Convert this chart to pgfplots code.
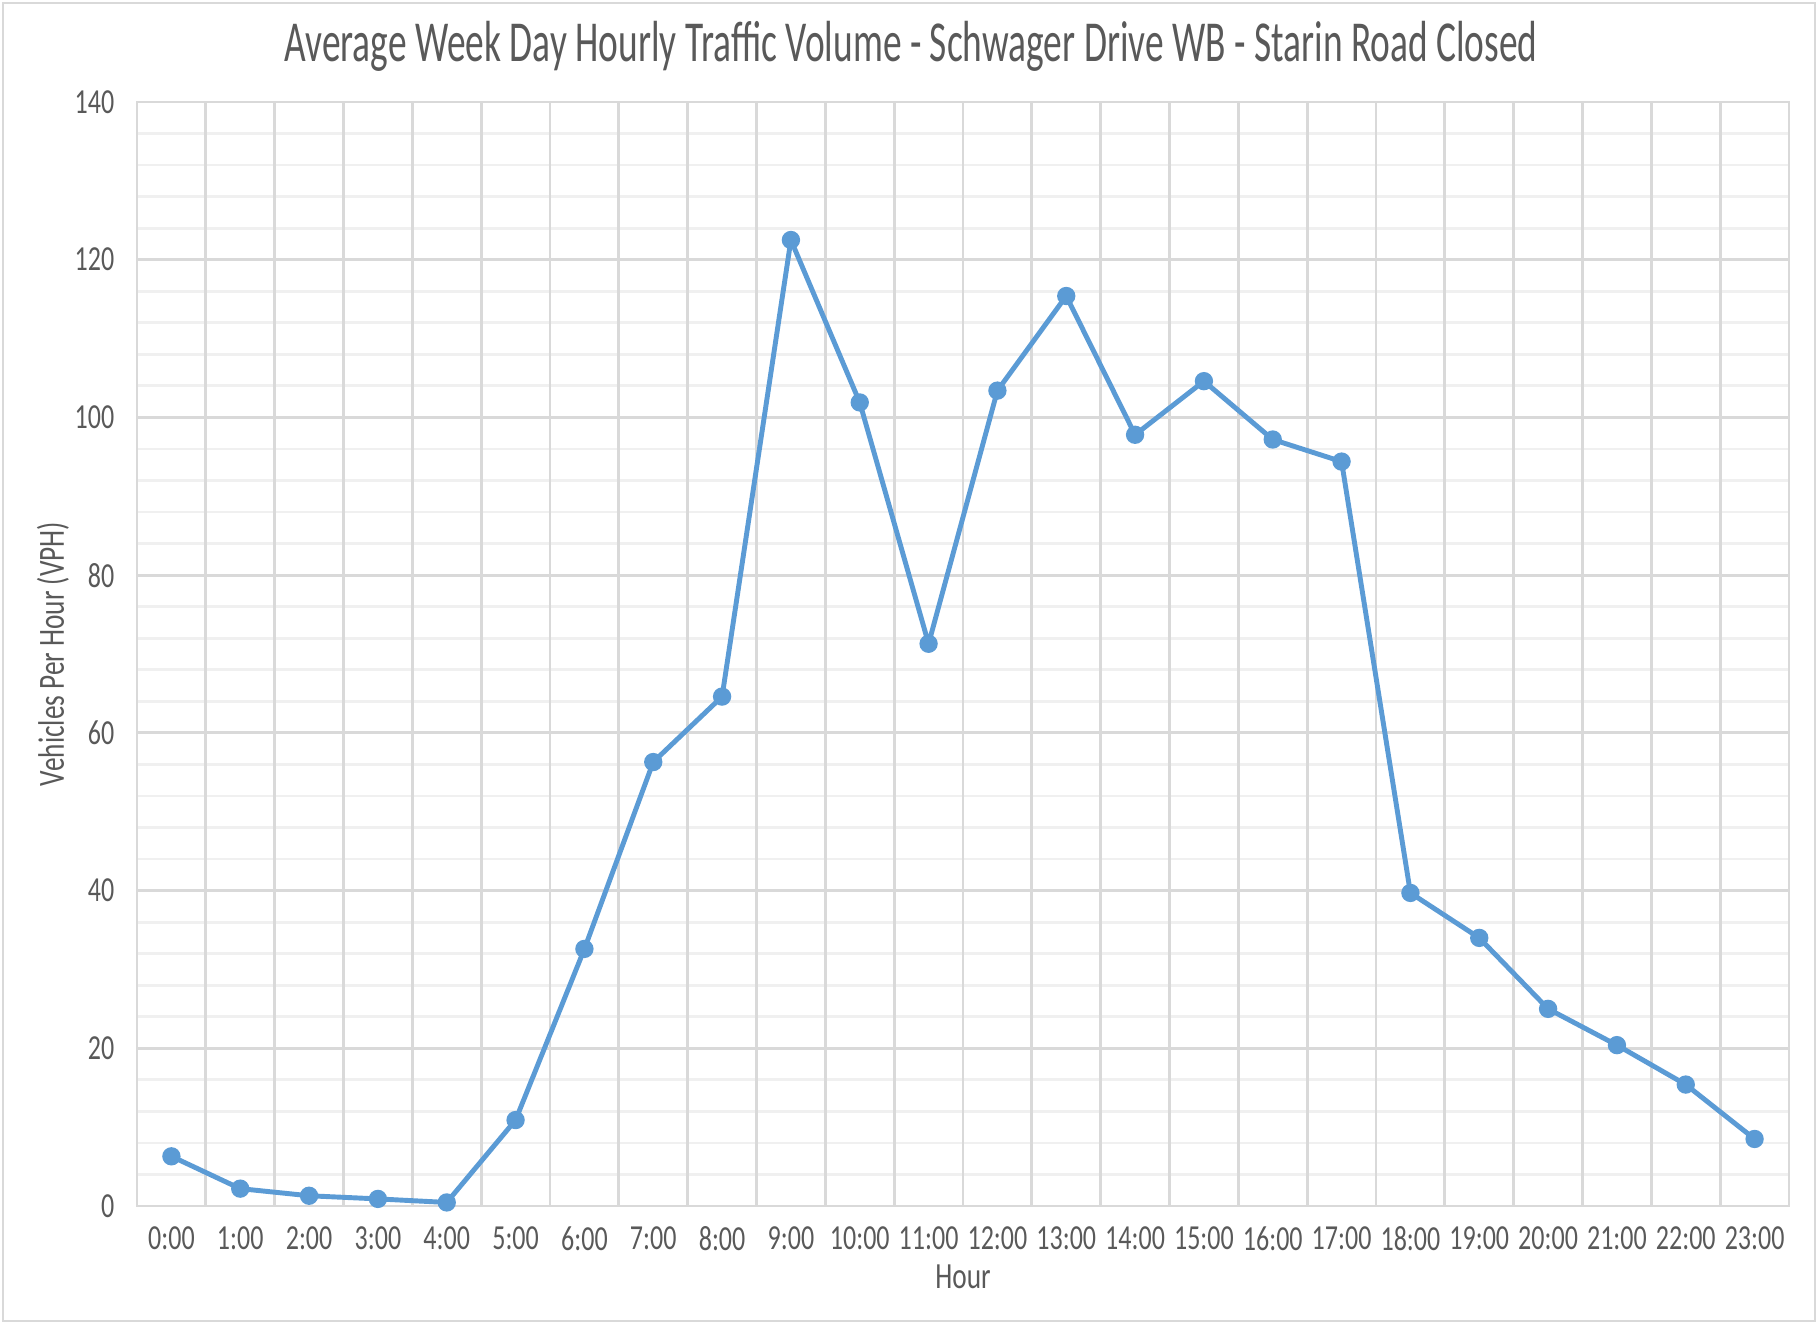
\documentclass[border=0pt]{standalone}
\usepackage{pgfplots}
\pgfplotsset{compat=1.18}
\usepackage{fontspec}
\setmainfont{Carlito}[FakeStretch=0.74]
\newfontfamily\titlefont{Carlito}[FakeStretch=0.645]
\definecolor{txt}{HTML}{595959}
\definecolor{gridc}{HTML}{D9D9D9}
\definecolor{gridm}{HTML}{F0F0F0}
\definecolor{blue1}{HTML}{5B9BD5}
\begin{document}
\begin{tikzpicture}
\useasboundingbox (-1.37,-1.18) rectangle (16.81,12.06);
\draw[gridc, line width=0.8pt] (-1.34,-1.15) rectangle (16.78,12.03);
\begin{axis}[
  scale only axis,
  width=16.52cm, height=11.04cm,
  at={(0,0)}, anchor=south west,
  xmin=-0.5, xmax=23.5,
  ymin=0, ymax=140,
  xtick={0,...,23},
  xticklabels={0:00,1:00,2:00,3:00,4:00,5:00,6:00,7:00,8:00,9:00,10:00,11:00,12:00,13:00,14:00,15:00,16:00,17:00,18:00,19:00,20:00,21:00,22:00,23:00},
  ytick={0,20,...,140},
  minor y tick num=4,
  extra x ticks={0.5,1.5,...,22.5},
  extra x tick labels={},
  extra x tick style={grid=major},
  ymajorgrids, yminorgrids,
  major grid style={gridc, line width=0.8pt},
  minor grid style={gridm, line width=0.8pt},
  major tick length=0pt, minor tick length=0pt,
  axis line style={gridc, line width=0.8pt},
  tick label style={font=\fontsize{10pt}{12pt}\selectfont, text=txt},
  xticklabel style={inner sep=0pt, yshift=-0.2cm},
  yticklabel style={inner sep=0pt, xshift=-0.22cm},
  /pgf/number format/assume math mode=true,
  xlabel={Hour},
  ylabel={Vehicles Per Hour (VPH)},
  label style={font=\fontsize{10.5pt}{12pt}\selectfont, text=txt},
  xlabel style={at={(axis description cs:0.5,0)}, anchor=center, yshift=-0.71cm},
  ylabel style={at={(axis description cs:0,0.5)}, anchor=center, rotate=0, yshift=0.84cm},
  clip=false,
]
\addplot[color=blue1, line width=1.4pt, mark=*, mark size=1.9pt, mark options={fill=blue1, draw=blue1}] coordinates {
(0,6.3) (1,2.2) (2,1.3) (3,0.9) (4,0.45) (5,10.9) (6,32.6) (7,56.3) (8,64.6) (9,122.5) (10,101.9) (11,71.3) (12,103.4) (13,115.4) (14,97.8) (15,104.6) (16,97.2) (17,94.4) (18,39.7) (19,34.0) (20,25.0) (21,20.4) (22,15.4) (23,8.5)
};
\end{axis}
\node[text=txt, font=\titlefont\fontsize{16.5pt}{18pt}\selectfont] at (7.74,11.6) {Average Week Day Hourly Traffic Volume - Schwager Drive WB - Starin Road Closed};
\end{tikzpicture}
\end{document}
